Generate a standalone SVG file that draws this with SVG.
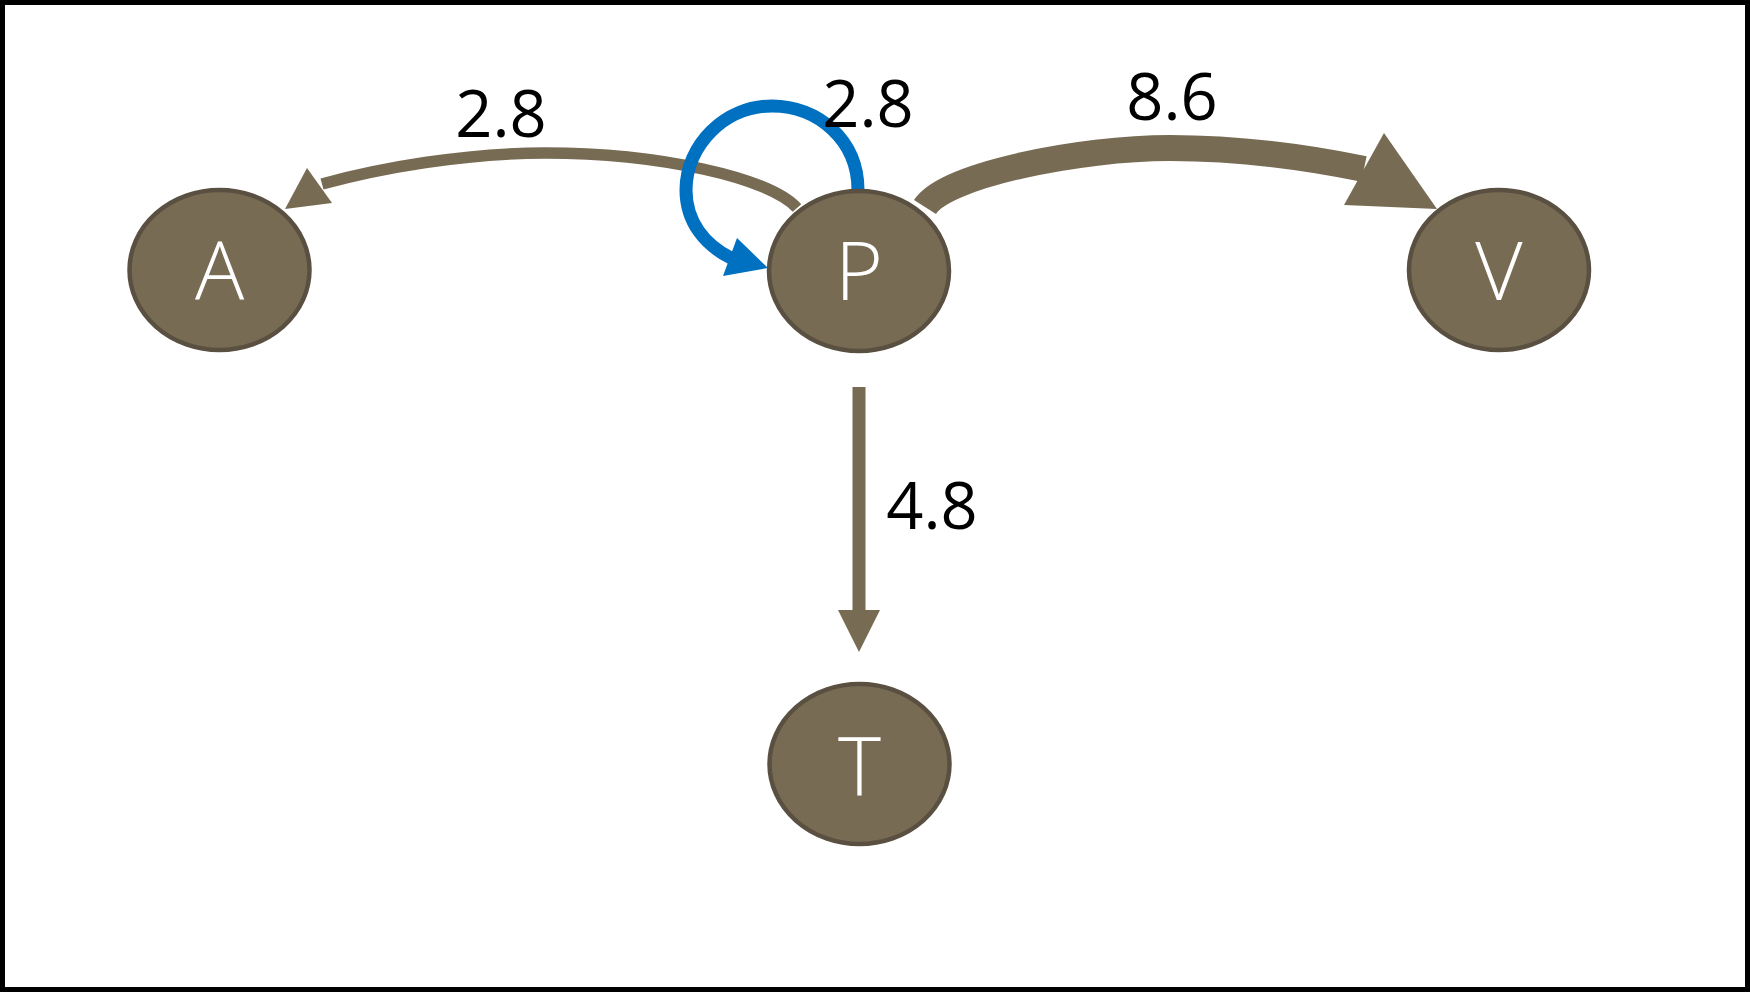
<svg xmlns="http://www.w3.org/2000/svg" width="1750" height="992" viewBox="0 0 1750 992">
<style>
.node ellipse{fill:#786b53;stroke:#5a5041;stroke-width:4.5}
.node text{fill:#ffffff;font-family:"Open Sans","Noto Sans","Liberation Sans",sans-serif;font-weight:300;font-size:82px;text-anchor:middle}
.edge{fill:none;stroke:#786b53;stroke-linecap:butt}
.head{fill:#786b53}
.loop{fill:none;stroke:#0070c0;stroke-width:13}
.loophead{fill:#0070c0}
.lbl{fill:#000000;font-family:"Open Sans","Noto Sans","Liberation Sans",sans-serif;font-size:65px;text-anchor:middle}
</style>
<rect x="0" y="0" width="1750" height="992" fill="#ffffff"/>
<rect x="2.5" y="2.5" width="1745" height="987" fill="none" stroke="#000000" stroke-width="5"/>
<g id="connectors">
  <path class="edge" stroke-width="11.5" d="M 797 208 C 770 178, 660 153, 545 153 C 465 153, 380 168, 322 184"/>
  <polygon class="head" points="307,168 332,203 285,209"/>
  <path class="edge" stroke-width="26" d="M 925 207 C 945 175, 1080 148, 1170 148 C 1250 148, 1320 160, 1364 169"/>
  <polygon class="head" points="1384,133 1344,205 1437,209"/>
  <path class="edge" stroke-width="13" d="M 859 387 L 859 612"/>
  <polygon class="head" points="838,610 880,610 859,652"/>
  <path class="loop" d="M 858 190 C 858 140, 818 106, 772 106 C 725 106, 686 145, 686 190 C 686 222, 705 245, 731 258"/>
  <polygon class="loophead" points="723,276 737,238 768,268"/>
  <text class="lbl" x="501" y="137">2.8</text>
  <text class="lbl" x="868" y="127">2.8</text>
  <text class="lbl" x="1172" y="120">8.6</text>
  <text class="lbl" x="932" y="529">4.8</text>
</g>
<g id="node-A" class="node"><ellipse cx="219.5" cy="270" rx="90" ry="80"/><text x="219.5" y="300">A</text></g>
<g id="node-P" class="node"><ellipse cx="859" cy="271" rx="90" ry="80"/><text x="859" y="300">P</text></g>
<g id="node-V" class="node"><ellipse cx="1499" cy="270" rx="90" ry="80"/><text x="1499" y="300">V</text></g>
<g id="node-T" class="node"><ellipse cx="859.5" cy="764" rx="90" ry="80"/><text x="859.5" y="795">T</text></g>
</svg>
